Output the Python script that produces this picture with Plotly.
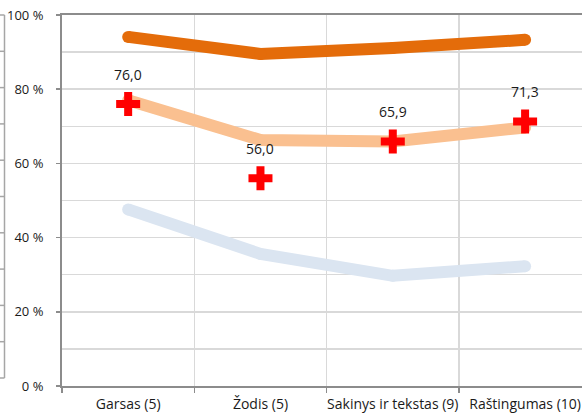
import plotly.graph_objects as go

categories = ["Garsas (5)", "Žodis (5)", "Sakinys ir tekstas (9)", "Raštingumas (10)"]
dark_orange = [94.1, 89.5, 91.1, 93.3]
light_orange = [77.0, 66.3, 65.9, 69.7]
light_blue = [47.6, 35.6, 29.7, 32.3]
crosses = [76.0, 56.0, 65.9, 71.3]
y_ticks = [0, 20, 40, 60, 80, 100]

W, H = 582, 414
ML, MR, MT, MB = 62, 0, 15, 28
PW, PH = W - ML - MR, H - MT - MB

xs = list(range(len(categories)))
FONT = "Open Sans, Lato, sans-serif"
X_RANGE = [-0.5, 3.43]

fig = go.Figure()

def line_trace(vals, color, width):
    return go.Scatter(
        x=xs, y=vals, mode="lines+markers",
        line=dict(color=color, width=width),
        marker=dict(color=color, size=width, line=dict(width=0)),
        hoverinfo="skip", showlegend=False,
    )

fig.add_trace(line_trace(light_blue, "#DBE5F1", 12))
fig.add_trace(line_trace(light_orange, "#FAC090", 12))
fig.add_trace(line_trace(dark_orange, "#E46C0A", 12))
fig.add_trace(go.Scatter(
    x=xs, y=crosses, mode="markers",
    marker=dict(symbol="cross", color="#FF0000", size=20, line=dict(width=0)),
    hoverinfo="skip", showlegend=False,
))

for xi, v in zip(xs, crosses):
    fig.add_annotation(
        x=xi, y=v, xref="x", yref="y", text=f"{v:.1f}".replace(".", ","),
        showarrow=False, yshift=30, yanchor="middle",
        font=dict(family=FONT, size=14, color="#1a1a1a"),
    )

fig.update_layout(
    width=W, height=H,
    margin=dict(l=ML, r=MR, t=MT, b=MB, autoexpand=False),
    paper_bgcolor="white", plot_bgcolor="white",
    xaxis=dict(
        range=X_RANGE, automargin=False,
        tickvals=[-0.5, 0.5, 1.5, 2.5], ticktext=["", "", "", ""],
        showgrid=True, gridcolor="#D9D9D9", gridwidth=1.5,
        ticks="outside", ticklen=5, tickcolor="#8C8C8C", tickwidth=1.5,
        showline=True, linecolor="#8C8C8C", linewidth=2, mirror=True,
        zeroline=False, fixedrange=True,
    ),
    xaxis2=dict(
        range=X_RANGE, overlaying="x", anchor="y", side="bottom", automargin=False,
        tickvals=xs, ticktext=categories,
        showgrid=False, showline=False, ticks="", zeroline=False,
        tickfont=dict(family=FONT, size=14, color="#1a1a1a"),
        ticklabelstandoff=8,
    ),
    yaxis=dict(
        range=[0, 100], tickvals=y_ticks, automargin=False,
        ticktext=[f"{t} %" for t in y_ticks],
        showgrid=True, gridcolor="#D9D9D9", gridwidth=1.5,
        minor=dict(dtick=10, tick0=0, showgrid=True, gridcolor="#D9D9D9", gridwidth=1.5, ticks=""),
        ticks="outside", ticklen=4, tickcolor="#8C8C8C", tickwidth=1.5,
        showline=True, linecolor="#8C8C8C", linewidth=2,
        zeroline=False, tickfont=dict(family=FONT, size=13, color="#1a1a1a"),
        ticklabelstandoff=10,
    ),
    font=dict(family=FONT),
)

# dummy trace to activate xaxis2
fig.add_trace(go.Scatter(x=[xs[0]], y=[None], xaxis="x2", mode="markers",
                         showlegend=False, hoverinfo="skip"))

# cropped neighbouring axis at far left edge
def px_x(p):
    return (p - ML) / PW
def px_y(p):
    return (H - MB - p) / PH

shapes = [dict(type="line", xref="paper", yref="paper",
               x0=px_x(4.5), x1=px_x(4.5), y0=px_y(15), y1=px_y(378),
               line=dict(color="#A6A6A6", width=1.5))]
for i in range(11):
    py = 15 + i * (378 - 15) / 10
    shapes.append(dict(type="line", xref="paper", yref="paper",
                       x0=px_x(0), x1=px_x(4.5), y0=px_y(py), y1=px_y(py),
                       line=dict(color="#A6A6A6", width=1.5)))
fig.update_layout(shapes=shapes)

fig.write_html(
    "out.html",
    config={"displayModeBar": False, "staticPlot": True},
    post_script="document.body.style.margin='0';document.body.style.overflow='hidden';",
)
